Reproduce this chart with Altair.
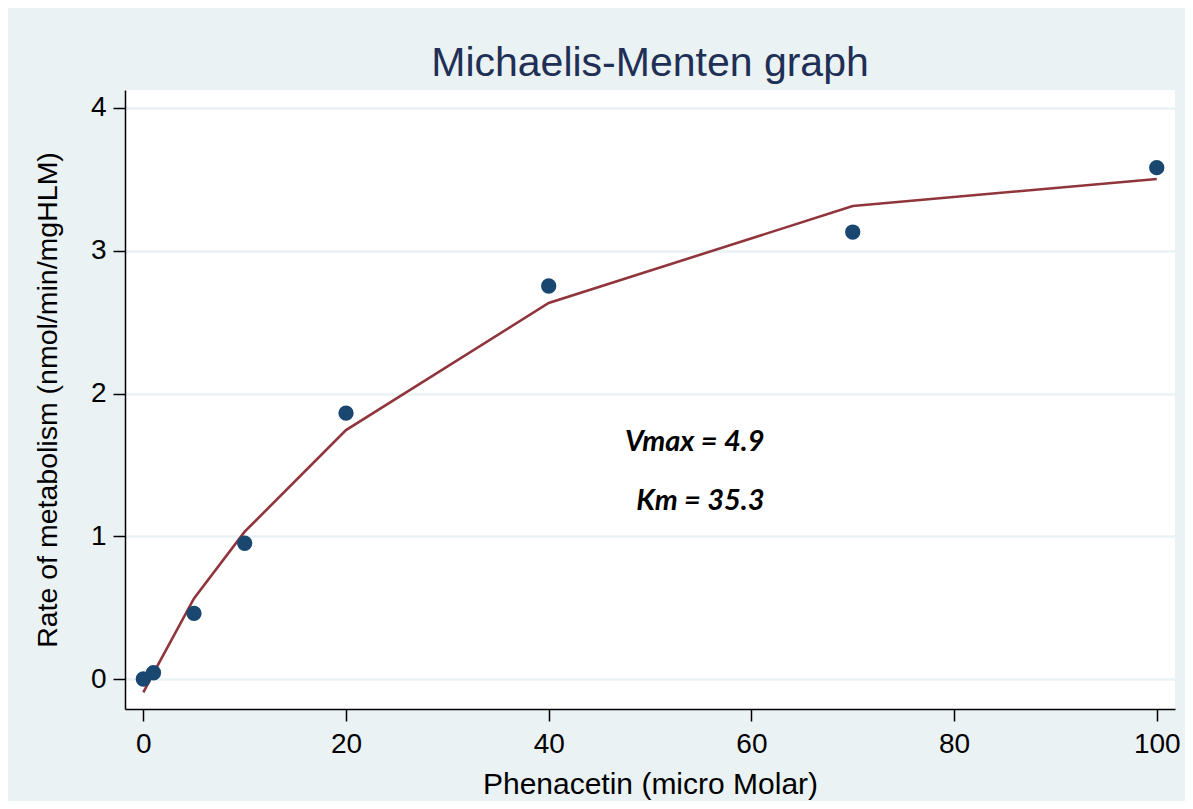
import altair as alt
import pandas as pd

# Data
conc = [0, 1, 5, 10, 20, 40, 70, 100]
rate_obs = [0.0, 0.044, 0.46, 0.951, 1.863, 2.753, 3.131, 3.582]
rate_fit = [-0.093, 0.042, 0.565, 1.032, 1.744, 2.634, 3.313, 3.503]
x_ticks = [0, 20, 40, 60, 80, 100]
y_ticks = [0, 1, 2, 3, 4]
notes = ["Vmax = 4.9", "Km = 35.3"]
note_x = [61.3, 61.3]
note_y = [1.66, 1.25]

df = pd.DataFrame({"conc": conc, "obs": rate_obs, "fit": rate_fit})
df_notes = pd.DataFrame({"label": notes, "x": note_x, "y": note_y})

FONT = "Liberation Sans"
BG = "#EAF2F3"

xscale = alt.Scale(domain=[-1.81, 101.8], nice=False, zero=False)
yscale = alt.Scale(domain=[-0.21, 4.126], nice=False, zero=False)

xaxis = alt.Axis(
    title="Phenacetin (micro Molar)", values=x_ticks, grid=False, format="d",
    domainColor="black", domainWidth=1.5, tickColor="black", tickWidth=1.5,
    tickSize=12, labelFontSize=28, labelFont=FONT, labelColor="black",
    labelPadding=9, titleFontSize=30, titleFont=FONT, titleFontWeight="normal",
    titleColor="black", titlePadding=11, labelFlush=False,
)
yaxis = alt.Axis(
    title="Rate of metabolism (nmol/min/mgHLM)", values=y_ticks, grid=True,
    format="d", gridColor=BG, gridWidth=2.5,
    domainColor="black", domainWidth=1.5, tickColor="black", tickWidth=1.5,
    tickSize=12, labelFontSize=28, labelFont=FONT, labelColor="black",
    labelPadding=7, titleFontSize=28.5, titleFont=FONT, titleFontWeight="normal",
    titleColor="black", titlePadding=28, labelFlush=False,
)

base = alt.Chart(df)

line = base.mark_line(color="#90353B", strokeWidth=2.6).encode(
    x=alt.X("conc:Q", scale=xscale, axis=xaxis),
    y=alt.Y("fit:Q", scale=yscale, axis=yaxis),
)

pts = base.mark_circle(color="#1A476F", size=235, opacity=1).encode(
    x=alt.X("conc:Q", scale=xscale),
    y=alt.Y("obs:Q", scale=yscale),
)

text = alt.Chart(df_notes).mark_text(
    font="Lato", fontSize=29, fontWeight="bold", fontStyle="italic",
    color="black", align="right", baseline="middle",
).encode(
    x=alt.X("x:Q", scale=xscale),
    y=alt.Y("y:Q", scale=yscale),
    text="label:N",
)

chart = (
    alt.layer(line, pts, text)
    .properties(
        width=1050, height=619,
        padding={"left": 117, "top": 82, "right": 10, "bottom": 92},
        autosize=alt.AutoSizeParams(type="none"),
        background=BG,
        title=alt.TitleParams(
            "Michaelis-Menten graph", fontSize=41, font=FONT,
            fontWeight="normal", color="#1F2F55", anchor="middle",
            frame="group", offset=5,
        ),
    )
    .configure_view(fill="white", strokeWidth=0)
)

chart.save("out.html", embed_options={"renderer": "svg", "actions": False})
